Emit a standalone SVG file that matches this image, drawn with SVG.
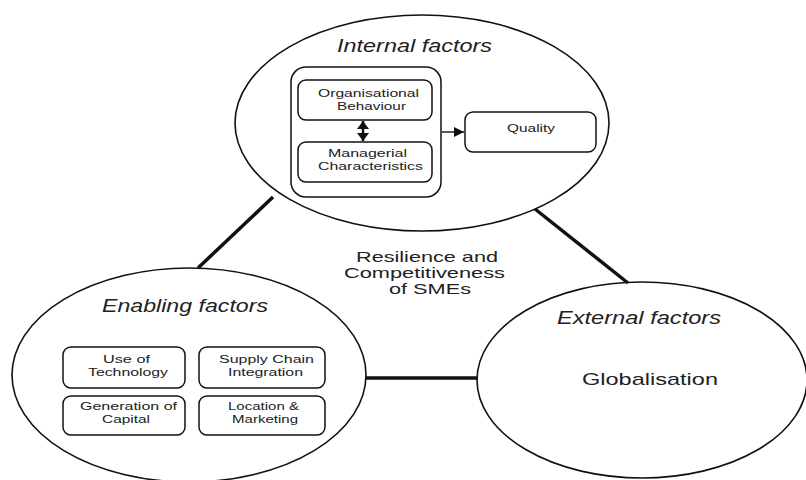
<svg xmlns="http://www.w3.org/2000/svg" width="806" height="480" viewBox="0 0 806 480">
<style>
.circ{fill:#fff;stroke:#111;stroke-width:1.6}
.box{fill:#fff;stroke:#111;stroke-width:1.5}
.link{stroke:#111;stroke-width:3.5;fill:none}
.t{font-family:"Liberation Sans",Arial,sans-serif;fill:#222;font-size:11.5px}
.h{font-family:"Liberation Sans",Arial,sans-serif;fill:#222;font-size:18px;font-style:italic}
.c{font-family:"Liberation Sans",Arial,sans-serif;fill:#222;font-size:15px}
.g{font-family:"Liberation Sans",Arial,sans-serif;fill:#222;font-size:17px}
.ar{stroke:#111;stroke-width:1.4;fill:none}
.ar2{stroke:#111;stroke-width:2.5;fill:none}
</style>
<defs>
<marker id="ah" viewBox="0 0 10 10" refX="10" refY="5" markerWidth="10" markerHeight="10" markerUnits="userSpaceOnUse" orient="auto-start-reverse">
<path d="M0,0 L10,5 L0,10 Z" fill="#111"/>
</marker>
<marker id="dh" viewBox="0 0 8 12" refX="8" refY="6" markerWidth="8" markerHeight="12" markerUnits="userSpaceOnUse" orient="auto-start-reverse">
<path d="M0,0 L8,6 L0,12 Z" fill="#111"/>
</marker>
</defs>
<g id="internal">
<ellipse class="circ" cx="422" cy="123" rx="187" ry="108"/>
<text class="h" x="337" y="52" textLength="155" lengthAdjust="spacingAndGlyphs">Internal factors</text>
<rect class="box" x="291" y="67" width="150" height="130" rx="15"/>
</g>
<g id="organisational-behaviour">
<rect class="box" x="298" y="80" width="134" height="40" rx="8"/>
<text class="t" x="318" y="97" textLength="101" lengthAdjust="spacingAndGlyphs">Organisational</text>
<text class="t" x="337" y="110" textLength="69" lengthAdjust="spacingAndGlyphs">Behaviour</text>
</g>
<g id="managerial-characteristics">
<rect class="box" x="298" y="142" width="134" height="40" rx="8"/>
<text class="t" x="328" y="157" textLength="79" lengthAdjust="spacingAndGlyphs">Managerial</text>
<text class="t" x="318" y="170" textLength="105" lengthAdjust="spacingAndGlyphs">Characteristics</text>
</g>
<g id="quality">
<rect class="box" x="465" y="112" width="131" height="40" rx="8"/>
<text class="t" x="507" y="132" textLength="48" lengthAdjust="spacingAndGlyphs">Quality</text>
</g>
<g id="center">
<text class="c" x="356" y="262" textLength="142" lengthAdjust="spacingAndGlyphs">Resilience and</text>
<text class="c" x="344" y="278" textLength="161" lengthAdjust="spacingAndGlyphs">Competitiveness</text>
<text class="c" x="389" y="294" textLength="82" lengthAdjust="spacingAndGlyphs">of SMEs</text>
</g>
<g id="enabling">
<ellipse class="circ" cx="189" cy="375" rx="177" ry="107"/>
<text class="h" x="102" y="312" textLength="166" lengthAdjust="spacingAndGlyphs">Enabling factors</text>
</g>
<g id="use-of-technology">
<rect class="box" x="63" y="347" width="122" height="41" rx="8"/>
<text class="t" x="103" y="363" textLength="47" lengthAdjust="spacingAndGlyphs">Use of</text>
<text class="t" x="88" y="376" textLength="80" lengthAdjust="spacingAndGlyphs">Technology</text>
</g>
<g id="supply-chain-integration">
<rect class="box" x="199" y="347" width="126" height="41" rx="8"/>
<text class="t" x="219" y="363" textLength="95" lengthAdjust="spacingAndGlyphs">Supply Chain</text>
<text class="t" x="228" y="376" textLength="75" lengthAdjust="spacingAndGlyphs">Integration</text>
</g>
<g id="generation-of-capital">
<rect class="box" x="63" y="396" width="122" height="39" rx="8"/>
<text class="t" x="80" y="410" textLength="97" lengthAdjust="spacingAndGlyphs">Generation of</text>
<text class="t" x="102" y="423" textLength="48" lengthAdjust="spacingAndGlyphs">Capital</text>
</g>
<g id="location-marketing">
<rect class="box" x="199" y="396" width="126" height="39" rx="8"/>
<text class="t" x="228" y="410" textLength="71" lengthAdjust="spacingAndGlyphs">Location &amp;</text>
<text class="t" x="232" y="423" textLength="66" lengthAdjust="spacingAndGlyphs">Marketing</text>
</g>
<g id="external">
<ellipse class="circ" cx="642" cy="380" rx="165" ry="98"/>
<text class="h" x="557" y="324" textLength="164" lengthAdjust="spacingAndGlyphs">External factors</text>
<text class="g" x="582" y="385" textLength="136" lengthAdjust="spacingAndGlyphs">Globalisation</text>
</g>
<g id="connectors">
<line class="link" x1="273" y1="197" x2="198" y2="268"/>
<line class="link" x1="535" y1="209" x2="628" y2="283"/>
<line class="link" x1="366" y1="378" x2="478" y2="378"/>
<line class="ar2" x1="363" y1="121" x2="363" y2="141" marker-start="url(#dh)" marker-end="url(#dh)"/>
<line class="ar" x1="442" y1="132" x2="464" y2="132" marker-end="url(#ah)"/>
</g>
</svg>
